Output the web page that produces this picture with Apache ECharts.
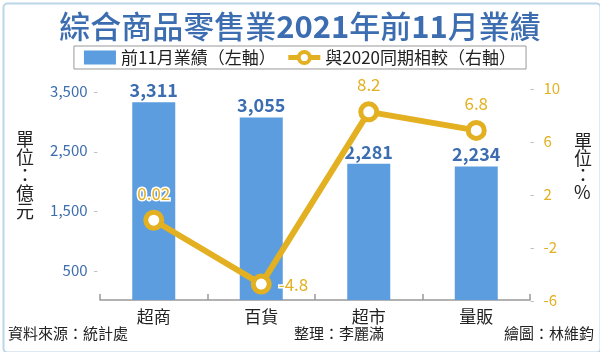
<!DOCTYPE html>
<html>
<head>
<meta charset="utf-8">
<script src="https://cdn.jsdelivr.net/npm/echarts@6/dist/echarts.min.js"></script>
<style>
  html, body { margin: 0; padding: 0; background: #fff; }
  #chart { width: 600px; height: 352px; }
</style>
</head>
<body>
<div id="chart"></div>
<script>
const categories = ['超商', '百貨', '超市', '量販'];
const salesValues = [3311, 3055, 2281, 2234];      // 億元, left axis
const yoyValues = [0.02, -4.8, 8.2, 6.8];          // %, right axis
const leftTickLabels = [500, 1500, 2500, 3500];

const BLUE = '#3c6db0';
const BAR = '#5b9dde';
const GOLD = '#e3b022';
const FONT = '"Noto Sans CJK TC", "Noto Sans", sans-serif';

const chart = echarts.init(document.getElementById('chart'));

const option = {
    backgroundColor: '#fff',
    textStyle: { fontFamily: FONT },
    title: {
        text: '{c|綜合商品零售業}{n|2021}{c|年前}{n|11}{c|月業績}',
        left: 'center', top: 6,
        textStyle: {
            rich: {
                c: { fontSize: 31, color: BLUE, fontFamily: FONT, fontWeight: 500 },
                n: { fontSize: 31, color: BLUE, fontFamily: FONT, fontWeight: 'bold' }
            }
        }
    },
    legend: {
        top: 46, left: 'center',
        borderColor: '#999', borderWidth: 1, borderRadius: 0,
        padding: [3, 10, 3, 10],
        itemGap: 10, itemWidth: 32, itemHeight: 14,
        textStyle: { fontSize: 17, color: '#222', fontFamily: FONT },
        data: [
            { name: '前11月業績（左軸）', icon: 'rect', itemStyle: { color: BAR } },
            {
                name: '與2020同期相較（右軸）',
                lineStyle: { width: 5, color: GOLD },
                itemStyle: { color: '#fff', borderColor: GOLD, borderWidth: 4 }
            }
        ]
    },
    grid: { left: 100, right: 70, top: 88, bottom: 52 },
    xAxis: {
        type: 'category',
        data: categories,
        axisLine: { lineStyle: { color: '#999', width: 1.5 } },
        axisTick: { show: true, inside: true, length: 6, lineStyle: { color: '#999', width: 1.5 } },
        axisLabel: { fontSize: 17, color: '#222', margin: 8 }
    },
    yAxis: [
        {
            type: 'value', min: 0, max: 3550, interval: 500,
            splitLine: { show: false },
            axisLine: { show: false },
            axisTick: { show: false },
            axisLabel: {
                showMaxLabel: false,
                margin: 2,
                formatter: v => leftTickLabels.includes(v)
                    ? '{v|' + v.toLocaleString('en-US') + '}{t| -}' : '',
                rich: {
                    v: { fontSize: 15, color: BLUE },
                    t: { fontSize: 13, color: '#bbb', padding: [0, 0, 0, 3] }
                }
            }
        },
        {
            type: 'value', min: -6, max: 10, interval: 4,
            splitLine: { show: false },
            axisLine: { show: false },
            axisTick: { show: false },
            axisLabel: {
                margin: 0,
                formatter: v => '{t|- }{v|' + v + '}',
                rich: {
                    v: { fontSize: 15, color: GOLD },
                    t: { fontSize: 13, color: '#bbb', padding: [0, 6, 0, 0] }
                }
            }
        }
    ],
    series: [
        {
            name: '前11月業績（左軸）',
            type: 'bar',
            yAxisIndex: 0,
            barWidth: 43,
            data: salesValues,
            itemStyle: { color: BAR },
            label: {
                show: true, position: 'top', distance: 3,
                fontSize: 18, fontWeight: 'bold', color: BLUE,
                formatter: p => p.value.toLocaleString('en-US')
            }
        },
        {
            name: '與2020同期相較（右軸）',
            type: 'line',
            yAxisIndex: 1,
            data: yoyValues.map((v, i) => ({
                value: v,
                label: { position: i === 1 ? 'right' : 'top', distance: i === 1 ? 7 : 8 }
            })),
            symbol: 'circle', symbolSize: 16,
            lineStyle: { color: GOLD, width: 6 },
            itemStyle: { color: '#fff', borderColor: GOLD, borderWidth: 5 },
            label: {
                show: true, fontSize: 17, color: GOLD,
                textBorderColor: '#fff', textBorderWidth: 3,
                formatter: p => String(p.value)
            },
            z: 5
        }
    ],
    graphic: [
        {
            type: 'rect', left: 1, top: 1,
            shape: { width: 597, height: 349, r: 4 },
            style: { fill: 'none', stroke: '#bcd6ea', lineWidth: 2 },
            silent: true
        },
        // 軸單位 (直排)
        { type: 'text', left: 16, top: 130, style: { text: '單\n位\n：\n億\n元', fontSize: 18, lineHeight: 18, fill: '#222', fontFamily: FONT } },
        { type: 'text', left: 574, top: 132, style: { text: '單\n位\n：\n%', fontSize: 18, lineHeight: 17, fill: '#222', fontFamily: FONT } },
        { type: 'text', left: 8, top: 326, style: { text: '資料來源：統計處', fontSize: 15, fill: '#222', fontFamily: FONT } },
        { type: 'text', left: 294, top: 326, style: { text: '整理：李麗滿', fontSize: 15, fill: '#222', fontFamily: FONT } },
        { type: 'text', right: 6, top: 326, style: { text: '繪圖：林維鈞', fontSize: 15, fill: '#222', fontFamily: FONT } }
    ]
};

chart.setOption(option);
</script>
</body>
</html>
